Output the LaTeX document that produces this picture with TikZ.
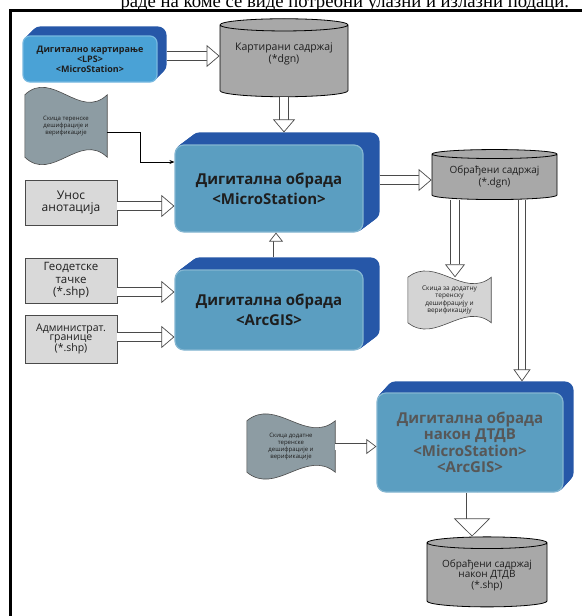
\documentclass[tikz,border=0pt]{standalone}
\usepackage{fontspec}
\setmainfont{Open Sans}
\newfontfamily\capfont{Liberation Serif}
\usetikzlibrary{
  arrows.meta,
  shapes.geometric,
  positioning,
  calc,
  backgrounds
}
\definecolor{dbDeep}{HTML}{2657A8}
\definecolor{dbFace}{HTML}{5B9EC1}
\definecolor{dbFaceA}{HTML}{4AA2D6}
\definecolor{dbGrey}{HTML}{D9D9D9}
\definecolor{dbDrum}{HTML}{A8A8A8}
\definecolor{dbSheet}{HTML}{8D9CA3}
\definecolor{dbSheetL}{HTML}{D4D4D4}
\definecolor{dbLine}{HTML}{4A4A4A}
\definecolor{dbInk}{HTML}{1E1E1E}
\definecolor{dbMuted}{HTML}{575757}
\tikzset{
  face/.style={
    rounded corners=9pt, fill=dbFace, draw=dbFace!75!white, line width=1.2pt,
    text=dbInk, align=center, inner sep=0pt,
    minimum width=188pt, minimum height=87pt, font=\fontsize{15}{20}\selectfont\bfseries
  },
  greybox/.style={
    draw=dbLine, line width=0.6pt, fill=dbGrey, text=dbInk, align=center, inner sep=0pt,
    minimum width=92pt, minimum height=45pt, font=\fontsize{11.5}{12.5}\selectfont
  },
  drum/.style={
    cylinder, shape border rotate=90, draw=black, line width=0.8pt, fill=dbDrum,
    text=dbInk, align=center, inner sep=0pt, font=\fontsize{10.5}{12}\selectfont
  },
  sheet/.style={align=center, inner sep=0pt, text=dbInk, font=\fontsize{6}{7}\selectfont},
  sheetline/.style={draw=dbLine, line width=0.6pt},
  hollow/.style n args={3}{
    draw=dbLine, line width=0.7pt, double=white, double distance=#1,
    -{Triangle[fill=white, width=#2, length=#3, line width=0.7pt]}
  },
  blockarr/.style={hollow={8pt}{22pt}{13pt}},
  feed/.style={draw=black, line width=0.6pt, -{Stealth[length=5pt, width=4pt]}},
  caption/.style={font=\capfont\fontsize{18.7}{18.7}\selectfont},
  frame/.style={line width=2.5pt}
}
% dark extrusion behind a block: node, dx, dy, colour
\newcommand\slab[4]{%
  \begin{scope}[on background layer]
    \foreach \k in {1,...,12}
      \fill[#4, rounded corners=9pt]
        ([shift={({\k*#2/12},{\k*(#3)/12})}]#1.south west) rectangle
        ([shift={({\k*#2/12},{\k*(#3)/12})}]#1.north east);
  \end{scope}}
% wavy sheet round a node: node, fill, bend
\newcommand\sheetwave[3]{%
  \begin{scope}[on background layer]
    \draw[sheetline, fill=#2] (#1.north west)
      .. controls ($(#1.north west)!.33!(#1.north east)+(0,-#3)$)
      and ($(#1.north west)!.67!(#1.north east)+(0,#3)$) .. (#1.north east)
      -- (#1.south east)
      .. controls ($(#1.south west)!.67!(#1.south east)+(0,-#3)$)
      and ($(#1.south west)!.33!(#1.south east)+(0,#3)$) .. (#1.south west)
      -- cycle;
  \end{scope}}
\begin{document}
\begin{tikzpicture}[x=1pt, y=-1pt]
  \useasboundingbox (0,0) rectangle (582,616);
  \node[caption, anchor=base west] (cap) at (117,7) {раде на коме се виде потребни улазни и излазни подаци.};
  \draw[frame] (10.5,616) -- (10.5,10.5) -- (582,10.5);

  % blocks
  \node[face, fill=dbFaceA, draw=dbFaceA!75!white, minimum width=134pt, minimum height=46pt, rounded corners=7pt,
    font=\fontsize{9}{10}\selectfont\bfseries] (dk) at (90,59) {Дигитално картирање\\<LPS>\\<MicroStation>};
  \node[face] (dm) at (269,188.5) {Дигитална обрада\\<MicroStation>};
  \node[face, minimum height=80pt] (da) at (269,310) {Дигитална обрада\\<ArcGIS>};
  \node[face, minimum width=186pt, minimum height=99pt, text=dbMuted,
    font=\fontsize{15}{16.5}\selectfont\bfseries] (dn) at (470,442.5)
    {Дигитална обрада\\након ДТДВ\\<MicroStation>\\<ArcGIS>};
  \slab{dk}{9}{-9}{dbDeep}
  \slab{dm}{16}{-12}{dbDeep}
  \slab{da}{16}{-12}{dbDeep}
  \slab{dn}{10}{-11}{dbDeep}

  % data stores
  \node[drum, minimum width=128pt, minimum height=78pt, aspect=0.125] (kc) at (284,61) {Картирани садржај\\(*dgn)\\[4pt]};
  \node[drum, minimum width=125pt, minimum height=50pt, aspect=0.1, font=\fontsize{10}{12}\selectfont] (oc) at (494.5,177) {Обрађени садржај\\(*.dgn)};
  \node[drum, minimum width=120pt, minimum height=70pt, aspect=0.13, font=\fontsize{10}{9}\selectfont] (fc) at (487,575) {Обрађени садржај\\након ДТДВ\\(*.shp)};

  % inputs
  \node[greybox, font=\fontsize{12}{12.5}\selectfont] (un) at (71,202.5) {Унос\\анотација};
  \node[greybox] (gt) at (71,280.5) {Геодетске\\тачке\\(*.shp)};
  \node[greybox, minimum height=48pt, font=\fontsize{10.5}{8}\selectfont] (ag) at (71,339) {Администрат.\\границе\\(*.shp)};

  % sketches
  \node[sheet, minimum width=82pt, minimum height=62pt] (sk1) at (66,126) {Скица теренске\\дешифрације и\\верификације};
  \node[sheet, minimum width=83pt, minimum height=45pt, font=\fontsize{6.5}{7.5}\selectfont] (sk2) at (449.5,300) {Скица за додатну\\теренску\\дешифрацију и\\верификацију};
  \node[sheet, minimum width=88pt, minimum height=51pt] (sk3) at (291,446.5) {Скица додатне\\теренске\\дешифрације и\\верификације};
  \sheetwave{sk1}{dbSheet}{26}
  \sheetwave{sk2}{dbSheetL}{22}
  \sheetwave{sk3}{dbSheet}{24}

  % flows
  \draw[blockarr, shorten <=9pt] ([yshift=3pt]dk.east) -- ([yshift=3pt]dk.east -| kc.west);
  \draw[blockarr, shorten >=12pt] (kc.south) -- (kc.south |- dm.north);
  \draw[feed] ([yshift=-6pt]sk1.east) -- ++(33,0) |- ([yshift=26.5pt]dm.west);
  \draw[blockarr] ([yshift=-3.5pt]un.east) -- ([yshift=-3.5pt]un.east -| dm.west);
  \draw[blockarr] ([yshift=-11.5pt]gt.east) -- ([yshift=-11.5pt]gt.east -| da.west);
  \draw[blockarr] ([yshift=2pt]ag.east) -- ([yshift=2pt]ag.east -| da.west);
  \draw[hollow={5pt}{14pt}{9pt}, shorten <=12pt] ([xshift=7pt]da.north) -- ([xshift=7pt]dm.south);
  \draw[blockarr, shorten <=16pt] ([yshift=8.5pt]dm.east) -- ([yshift=8.5pt]dm.east -| oc.west);
  \draw[hollow={8pt}{20pt}{13pt}] ([xshift=5.5pt]sk2.north |- oc.south) -- ([xshift=5.5pt]sk2.north);
  \draw[hollow={6pt}{17pt}{12pt}, shorten >=11pt] ([xshift=27.5pt]oc.south) -- ([xshift=27.5pt]oc.south |- dn.north);
  \draw[hollow={6pt}{15pt}{10pt}] (sk3.east) -- (sk3.east -| dn.west);
  \draw[hollow={11pt}{36pt}{18pt}] ([xshift=2pt]dn.south) -- ([xshift=2pt]dn.south |- fc.north);
\end{tikzpicture}
\end{document}
